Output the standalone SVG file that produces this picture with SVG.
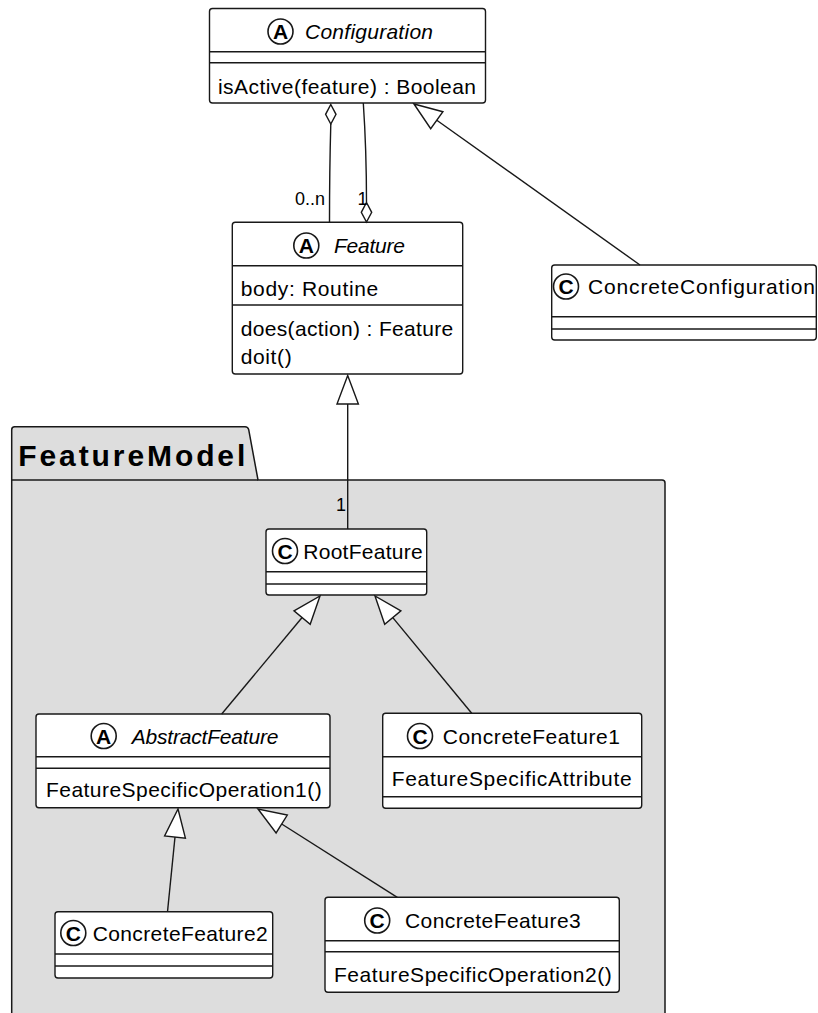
<svg xmlns="http://www.w3.org/2000/svg" width="818" height="1013" viewBox="0 0 818 1013">
  <style>
    .box { fill: #FFFFFF; stroke: #181818; stroke-width: 1.4; }
    .sep { stroke: #181818; stroke-width: 1.4; fill: none; }
    .txt { font-family: "Liberation Sans", Arial, sans-serif; font-size: 21px; fill: #000000; }
    .lbl { font-family: "Liberation Sans", Arial, sans-serif; font-size: 18px; fill: #000000; }
    .ital { font-style: italic; }
    .spot { fill: #FFFFFF; stroke: #181818; stroke-width: 1.6; }
    .spotch { font-family: "Liberation Sans", Arial, sans-serif; font-size: 21px; font-weight: bold; fill: #000000; text-anchor: middle; }
    .edge { stroke: #181818; stroke-width: 1.4; fill: none; }
    .head { fill: #FFFFFF; stroke: #181818; stroke-width: 1.4; }
    .pkg { fill: #DDDDDD; stroke: #181818; stroke-width: 1.5; }
    .pkgname { font-family: "Liberation Sans", Arial, sans-serif; font-size: 30px; font-weight: bold; fill: #000000; }
  </style>
  <rect x="0" y="0" width="818" height="1013" fill="#FFFFFF"/>

  <!-- FeatureModel package -->
  <g id="FeatureModel">
    <path class="pkg" d="M11.7,1030 L11.7,429.7 Q11.7,426.7 14.7,426.7 L245,426.7 Q248,426.7 248.7,429.7 L258,480 L662,480 Q665,480 665,483 L665,1030 Z"/>
    <line class="sep" x1="11.7" y1="480" x2="258" y2="480"/>
    <text class="pkgname" x="18.3" y="466" textLength="227" lengthAdjust="spacing">FeatureModel</text>
  </g>

  <!-- Configuration -->
  <g id="Configuration">
    <rect class="box" x="209.5" y="8.5" width="276" height="94.5" rx="3"/>
    <line class="sep" x1="209.5" y1="51.7" x2="485.5" y2="51.7"/>
    <line class="sep" x1="209.5" y1="62.7" x2="485.5" y2="62.7"/>
    <circle class="spot" cx="280.5" cy="31.5" r="12.5"/>
    <text class="spotch" x="280.5" y="39">A</text>
    <text class="txt ital" x="305" y="39" textLength="128" lengthAdjust="spacing">Configuration</text>
    <text class="txt" x="218" y="93.5" textLength="258" lengthAdjust="spacing">isActive(feature) : Boolean</text>
  </g>

  <!-- Feature -->
  <g id="Feature">
    <rect class="box" x="232.3" y="222.3" width="230.4" height="151.7" rx="3"/>
    <line class="sep" x1="232.3" y1="265.7" x2="462.7" y2="265.7"/>
    <line class="sep" x1="232.3" y1="305" x2="462.7" y2="305"/>
    <circle class="spot" cx="306.3" cy="245.5" r="12.5"/>
    <text class="spotch" x="306.3" y="253">A</text>
    <text class="txt ital" x="334" y="253" textLength="71" lengthAdjust="spacing">Feature</text>
    <text class="txt" x="240.7" y="295.5" textLength="137.6" lengthAdjust="spacing">body: Routine</text>
    <text class="txt" x="240.7" y="335.5" textLength="212.6" lengthAdjust="spacing">does(action) : Feature</text>
    <text class="txt" x="240.7" y="363.5" textLength="51" lengthAdjust="spacing">doit()</text>
  </g>

  <!-- ConcreteConfiguration -->
  <g id="ConcreteConfiguration">
    <rect class="box" x="551.7" y="265" width="264.6" height="75" rx="3"/>
    <line class="sep" x1="551.7" y1="316.7" x2="816.3" y2="316.7"/>
    <line class="sep" x1="551.7" y1="329" x2="816.3" y2="329"/>
    <circle class="spot" cx="566" cy="286.5" r="12.5"/>
    <text class="spotch" x="566" y="294">C</text>
    <text class="txt" x="588" y="294.3" textLength="227" lengthAdjust="spacing">ConcreteConfiguration</text>
  </g>

  <!-- RootFeature -->
  <g id="RootFeature">
    <rect class="box" x="266" y="529" width="160.7" height="66" rx="3"/>
    <line class="sep" x1="266" y1="571.7" x2="426.7" y2="571.7"/>
    <line class="sep" x1="266" y1="584" x2="426.7" y2="584"/>
    <circle class="spot" cx="285" cy="551" r="12.5"/>
    <text class="spotch" x="285" y="558.5">C</text>
    <text class="txt" x="303.3" y="558.5" textLength="119.3" lengthAdjust="spacing">RootFeature</text>
  </g>

  <!-- AbstractFeature -->
  <g id="AbstractFeature">
    <rect class="box" x="36" y="714" width="294" height="93.7" rx="3"/>
    <line class="sep" x1="36" y1="756.7" x2="330" y2="756.7"/>
    <line class="sep" x1="36" y1="768.3" x2="330" y2="768.3"/>
    <circle class="spot" cx="103.7" cy="736" r="12.5"/>
    <text class="spotch" x="103.7" y="743.5">A</text>
    <text class="txt ital" x="131.7" y="743.5" textLength="146.7" lengthAdjust="spacing">AbstractFeature</text>
    <text class="txt" x="46" y="797" textLength="275.7" lengthAdjust="spacing">FeatureSpecificOperation1()</text>
  </g>

  <!-- ConcreteFeature1 -->
  <g id="ConcreteFeature1">
    <rect class="box" x="382.7" y="713.3" width="259" height="95" rx="3"/>
    <line class="sep" x1="382.7" y1="756.7" x2="641.7" y2="756.7"/>
    <line class="sep" x1="382.7" y1="796.7" x2="641.7" y2="796.7"/>
    <circle class="spot" cx="420" cy="736" r="12.5"/>
    <text class="spotch" x="420" y="743.5">C</text>
    <text class="txt" x="442.7" y="743.5" textLength="177.3" lengthAdjust="spacing">ConcreteFeature1</text>
    <text class="txt" x="391.7" y="785.5" textLength="240" lengthAdjust="spacing">FeatureSpecificAttribute</text>
  </g>

  <!-- ConcreteFeature2 -->
  <g id="ConcreteFeature2">
    <rect class="box" x="55" y="911.7" width="217.7" height="66.3" rx="3"/>
    <line class="sep" x1="55" y1="954" x2="272.7" y2="954"/>
    <line class="sep" x1="55" y1="966" x2="272.7" y2="966"/>
    <circle class="spot" cx="73.3" cy="933" r="12.5"/>
    <text class="spotch" x="73.3" y="940.5">C</text>
    <text class="txt" x="92.7" y="941" textLength="175" lengthAdjust="spacing">ConcreteFeature2</text>
  </g>

  <!-- ConcreteFeature3 -->
  <g id="ConcreteFeature3">
    <rect class="box" x="325" y="897.3" width="294.3" height="95" rx="3"/>
    <line class="sep" x1="325" y1="940.7" x2="619.3" y2="940.7"/>
    <line class="sep" x1="325" y1="951.7" x2="619.3" y2="951.7"/>
    <circle class="spot" cx="377.2" cy="920.5" r="12.5"/>
    <text class="spotch" x="377.2" y="928">C</text>
    <text class="txt" x="405" y="927.5" textLength="175.7" lengthAdjust="spacing">ConcreteFeature3</text>
    <text class="txt" x="334" y="982" textLength="277.7" lengthAdjust="spacing">FeatureSpecificOperation2()</text>
  </g>

  <!-- Connectors -->
  <g id="connectors">
    <!-- aggregation: Configuration holds 0..n Feature -->
    <path class="edge" d="M330.8,124 Q329.5,170 329.5,222.3"/>
    <polygon class="head" points="330.8,104.5 336,114.3 330.8,124 325.6,114.3"/>
    <text class="lbl" x="295" y="204.5" textLength="30" lengthAdjust="spacing">0..n</text>

    <!-- aggregation: Feature holds 1 Configuration -->
    <path class="edge" d="M363.3,103 Q366.5,150 366.5,202.5"/>
    <polygon class="head" points="366.5,202.5 371.7,212.3 366.5,222 361.3,212.3"/>
    <text class="lbl" x="357.5" y="204.5">1</text>

    <!-- generalization: ConcreteConfiguration to Configuration -->
    <line class="edge" x1="436.8" y1="120.2" x2="640" y2="265"/>
    <polygon class="head" points="414,104 430.7,128.7 442.9,111.7"/>

    <!-- generalization: RootFeature to Feature -->
    <line class="edge" x1="347.7" y1="404" x2="347.7" y2="529"/>
    <polygon class="head" points="347.7,375.5 337,404 358.4,404"/>
    <text class="lbl" x="336" y="510.5">1</text>

    <!-- generalization: AbstractFeature to RootFeature -->
    <line class="edge" x1="302.1" y1="617.5" x2="221.7" y2="714"/>
    <polygon class="head" points="320,596 310.2,624.2 294,610.8"/>

    <!-- generalization: ConcreteFeature1 to RootFeature -->
    <line class="edge" x1="392.8" y1="617.6" x2="471.7" y2="713.3"/>
    <polygon class="head" points="375,596 384.7,624.3 400.9,610.9"/>

    <!-- generalization: ConcreteFeature2 to AbstractFeature -->
    <line class="edge" x1="175" y1="837" x2="167.5" y2="911.7"/>
    <polygon class="head" points="178,809 185.4,838.1 164.6,835.9"/>

    <!-- generalization: ConcreteFeature3 to AbstractFeature -->
    <line class="edge" x1="281.7" y1="824" x2="397.3" y2="897.3"/>
    <polygon class="head" points="258,809 276.1,832.9 287.3,815.1"/>
  </g>
</svg>
